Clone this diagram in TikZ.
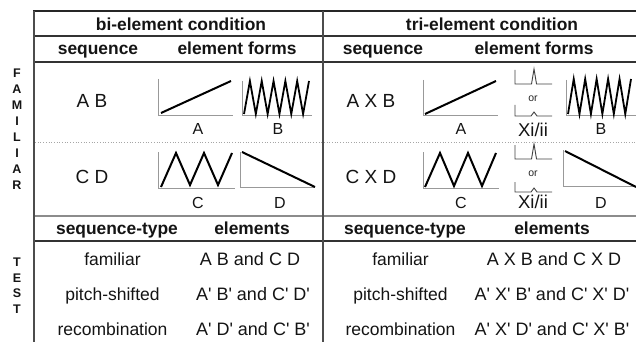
\documentclass[tikz,border=0pt]{standalone}
\usepackage{fontspec}
\setmainfont{Liberation Sans}[Ligatures=TeXOff]
\begin{document}
\begin{tikzpicture}[x=1pt,y=-1pt,
  hd/.style={font=\bfseries\fontsize{17.4}{18}\selectfont, anchor=base, inner sep=0pt, text=black!92},
  sq/.style={font=\fontsize{19}{19}\selectfont, anchor=base, inner sep=0pt, text=black!92},
  lab/.style={font=\fontsize{16}{16}\selectfont, anchor=base, inner sep=0pt, text=black!92},
  xlab/.style={font=\fontsize{18.5}{18}\selectfont, anchor=base, inner sep=0pt, text=black!92},
  orr/.style={font=\fontsize{10.5}{10}\selectfont, anchor=base, inner sep=0pt, text=black!85},
  bt/.style={font=\fontsize{17.5}{18}\selectfont, anchor=base, inner sep=0pt, text=black!92},
  el/.style={font=\fontsize{18}{18}\selectfont, anchor=base, inner sep=0pt, text=black!92},
  side/.style={font=\bfseries\fontsize{12.5}{12}\selectfont, anchor=base, inner sep=0pt, text=black!92},
  ax/.style={draw=black!40, line width=1pt},
  sig/.style={draw=black, line width=2pt},
  saw/.style={draw=black, line width=1.8pt, line join=miter, miter limit=20},
  xs/.style={draw=black!75, line width=0.9pt},
  thick rule/.style={draw=black!85, line width=1.8pt},
  mid rule/.style={draw=black!80, line width=1.3pt},
  gray rule/.style={draw=black!45, line width=1.4pt},
  vrule/.style={draw=black!70, line width=1.2pt},
  dot rule/.style={draw=black!35, line width=0.7pt, dotted}
]
\useasboundingbox (0,0) rectangle (636,342);

% ---------- table rules ----------
\draw[thick rule] (33,11) -- (636,11);
\draw[mid rule] (33,36) -- (636,36);
\draw[mid rule] (33,62) -- (636,62);
\draw[dot rule] (35,142) -- (636,142);
\draw[gray rule] (35,216) -- (636,216);
\draw[mid rule] (34,241) -- (636,241);
\draw[vrule] (34,11) -- (34,342);
\draw[vrule] (323,11) -- (323,342);

% ---------- side labels ----------
\foreach \l [count=\i from 0] in {F,A,M,I,L,I,A,R}
  \node[side] (fam\i) at (17,77.5+16*\i) {\l};
\foreach \l [count=\i from 0] in {T,E,S,T}
  \node[side] (test\i) at (17,266.5+15.5*\i) {\l};

% ---------- headers ----------
\node[hd] (bihd) at (181,31) {bi-element condition};
\node[hd] (trihd) at (492,31) {tri-element condition};
\node[hd] (bseq) at (98,54.5) {sequence};
\node[hd] (bform) at (237,54.5) {element forms};
\node[hd] (tseq) at (383,54.5) {sequence};
\node[hd] (tform) at (534,54.5) {element forms};

% ---------- sequences ----------
\node[sq] (sAB) at (92,107) {A B};
\node[sq] (sCD) at (92,183) {C D};
\node[sq] (sAXB) at (371,107) {A X B};
\node[sq] (sCXD) at (371,183) {C X D};

% ---------- bi-element forms ----------
% A
\draw[ax] (158,79) -- (158,115) -- (233,115);
\draw[sig] (161,113) -- (231,81);
\node[lab] (lA1) at (198,134) {A};
% B
\draw[ax] (242,81) -- (242,115) -- (312,115);
\draw[saw] (244,114) \foreach \k in {1,...,11} { -- ({244+\k*65/11},{mod(\k,2)==1 ? 81 : 114}) };
\node[lab] (lB1) at (278,134) {B};
% C
\draw[ax] (158,152) -- (158,188) -- (235,188);
\draw[sig, line join=miter] (161,187) -- (176,153) -- (190,185) -- (204,153) -- (218,185) -- (232,153);
\node[lab] (lC1) at (198,208) {C};
% D
\draw[ax] (240,152) -- (240,187) -- (315,187);
\draw[sig] (242,152) -- (315,187);
\node[lab] (lD1) at (280,208) {D};

% ---------- tri-element forms ----------
% A
\draw[ax] (423,80) -- (423,115) -- (498,115);
\draw[sig] (425,114) -- (496,81);
\node[lab] (lA2) at (461,134) {A};
% X row 1
\draw[xs] (515,70) -- (515,84) -- (531.5,84) -- (534,69) -- (536.5,84) -- (552,84);
\node[orr] (or1) at (533,102) {or};
\draw[xs] (515,105) -- (515,116) -- (531,116) -- (534,112) -- (537,116) -- (552,116);
\node[xlab] (lX1) at (533,136) {Xi/ii};
% B
\draw[ax] (566,80) -- (566,115) -- (636,115);
\draw[saw] (568,114) \foreach \k in {1,...,11} { -- ({568+\k*63/11},{mod(\k,2)==1 ? 79 : 114}) };
\node[lab] (lB2) at (601,134) {B};
% C
\draw[ax] (423,152) -- (423,188) -- (499,188);
\draw[sig, line join=miter] (425,187) -- (440,153) -- (454,186) -- (468,153) -- (482,186) -- (496,153);
\node[lab] (lC2) at (461,208) {C};
% X row 2
\draw[xs] (515,145) -- (515,159) -- (531.5,159) -- (534,144) -- (536.5,159) -- (552,159);
\node[orr] (or2) at (533,176) {or};
\draw[xs] (515,182) -- (515,192) -- (531,192) -- (534,188) -- (537,192) -- (552,192);
\node[xlab] (lX2) at (533,208) {Xi/ii};
% D
\draw[ax] (563,150) -- (563,186) -- (636,186);
\draw[sig] (565,151) -- (636,187);
\node[lab] (lD2) at (601,208) {D};

% ---------- test section ----------
\node[hd] (bst) at (117,234) {sequence-type};
\node[hd] (bel) at (252,234) {elements};
\node[hd] (tst) at (405,234) {sequence-type};
\node[hd] (tel) at (552,234) {elements};

\node[bt] (bf) at (112.5,265) {familiar};
\node[bt] (bp) at (112.5,300) {pitch-shifted};
\node[bt] (br) at (112.5,335) {recombination};
\node[el] (bfe) at (250,265) {A B and C D};
\node[el] (bpe) at (253,300) {A' B' and C' D'};
\node[el] (bre) at (253,335) {A' D' and C' B'};

\node[bt] (tf) at (400.5,265) {familiar};
\node[bt] (tp) at (400.5,300) {pitch-shifted};
\node[bt] (tr) at (400.5,335) {recombination};
\node[el] (tfe) at (554,265) {A X B and C X D};
\node[el] (tpe) at (552,300) {A' X' B' and C' X' D'};
\node[el] (tre) at (552,335) {A' X' D' and C' X' B'};
\end{tikzpicture}
\end{document}
